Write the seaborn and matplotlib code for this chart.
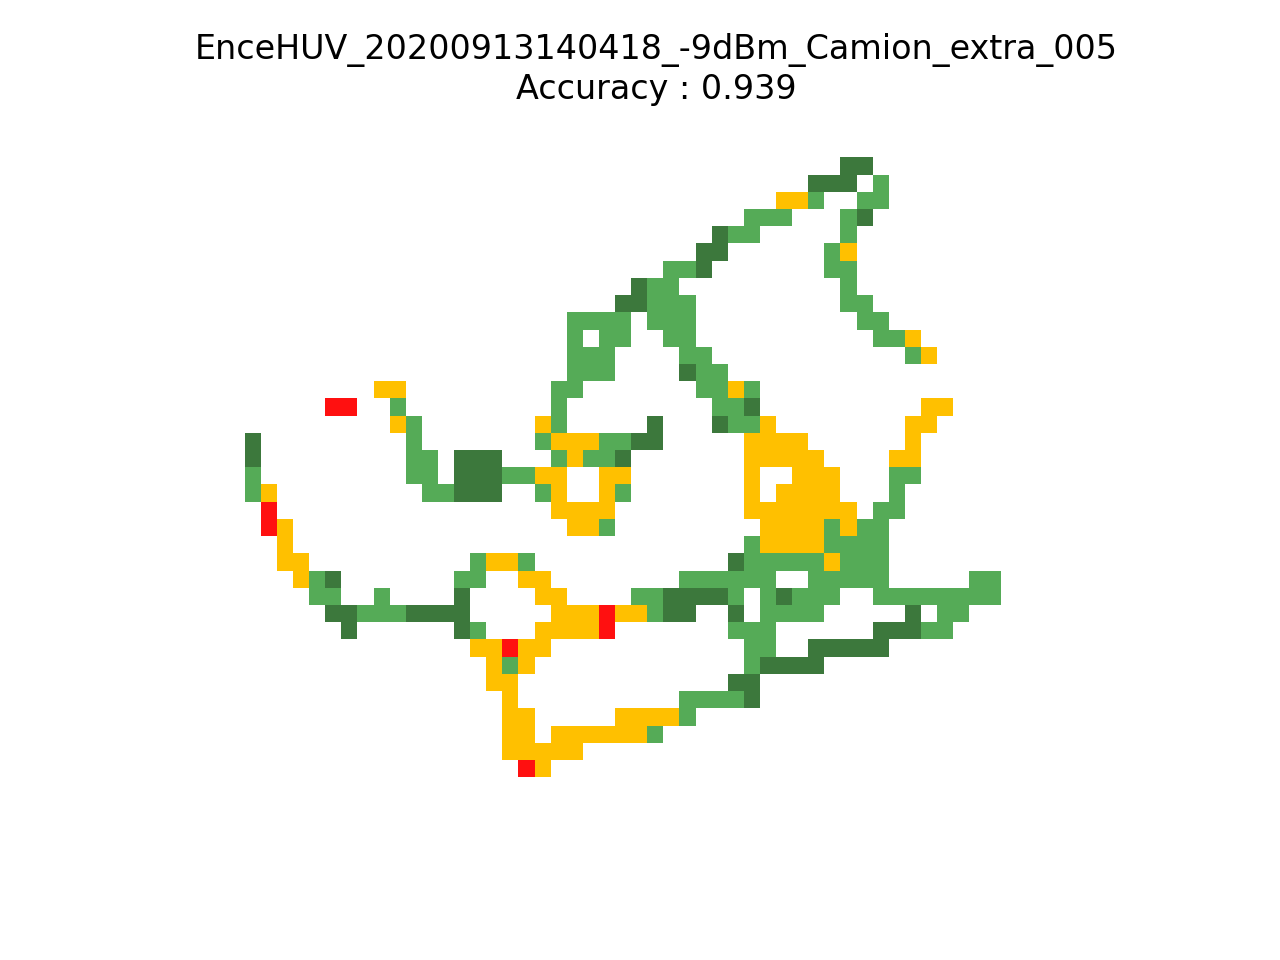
import numpy as np
import matplotlib
matplotlib.use("Agg")
import matplotlib.pyplot as plt
from matplotlib.colors import ListedColormap
import seaborn as sns

title = "EnceHUV_20200913140418_-9dBm_Camion_extra_005\nAccuracy : 0.939"

# d = dark green, g = green, y = amber, r = red, . = no data (10 columns per block)
rows = [
    ".......... .......... .......... .......dd. .......",
    ".......... .......... .......... .....ddd.g .......",
    ".......... .......... .......... ...yyg..gg .......",
    ".......... .......... .......... .ggg...gd. .......",
    ".......... .......... .........d gg.....g.. .......",
    ".......... .......... ........dd ......gy.. .......",
    ".......... .......... ......ggd. ......gg.. .......",
    ".......... .......... ....dgg... .......g.. .......",
    ".......... .......... ...ddggg.. .......gg. .......",
    ".......... .......... gggg.ggg.. ........gg .......",
    ".......... .......... g.gg..gg.. .........g gy.....",
    ".......... .......... ggg....gg. .......... .gy....",
    ".......... .......... ggg....dgg .......... .......",
    "........yy .........g g.......gg yg........ .......",
    ".....rr..g .........g .........g gd........ ..yy...",
    ".........y g.......yg .....d...d ggy....... .yy....",
    "d......... g.......gy yyggdd.... .yyyy..... .y.....",
    "d......... gg.ddd...g yggd...... .yyyyy.... yy.....",
    "g......... gg.dddggyy ..yy...... .y..yyy... gg.....",
    "gy........ .ggddd..gy ..yg...... .y.yyyy... g......",
    ".r........ .........y yyy....... .yyyyyyy.g g......",
    ".ry....... .......... yyg....... ..yyyygygg .......",
    "..y....... .......... .......... .gyyyygggg .......",
    "..yy...... ....gyyg.. .......... dgggggyggg .......",
    "...ygd.... ...gg..yy. .......ggg ggg..ggggg .....gg",
    "....gg..g. ...d....yy ....ggdddd g.gdggg..g ggggggg",
    ".....ddggg dddd.....y yyryygdd.. d.gggg.... .d.gg..",
    "......d... ...dg...yy yyr....... ggg......d ddgg...",
    ".......... ....yyryy. .......... .gg..ddddd .......",
    ".......... .....ygy.. .......... .gdddd.... .......",
    ".......... .....yy... .......... dd........ .......",
    ".......... ......y... .......ggg gd........ .......",
    ".......... ......yy.. ...yyyyg.. .......... .......",
    ".......... ......yy.y yyyyyg.... .......... .......",
    ".......... ......yyyy y......... .......... .......",
    ".......... .......ry. .......... .......... .......",
]
classes = "dgyr"
colors = ["#3c783c", "#55ab57", "#ffc000", "#ff1010"]

grid = np.array([[classes.find(c) for c in r.replace(" ", "")] for r in rows], dtype=float)
grid[grid < 0] = np.nan

fig, ax = plt.subplots(figsize=(6.4, 4.8), dpi=200)
sns.heatmap(grid, cmap=ListedColormap(colors), vmin=-0.5, vmax=3.5, cbar=False,
            xticklabels=False, yticklabels=False, ax=ax)
ax.set_xlim(-5.267, 56.35)
ax.set_ylim(40.48, -2.445)
ax.axis("off")
ax.set_title(title)
fig.savefig("out.png", dpi=200)
